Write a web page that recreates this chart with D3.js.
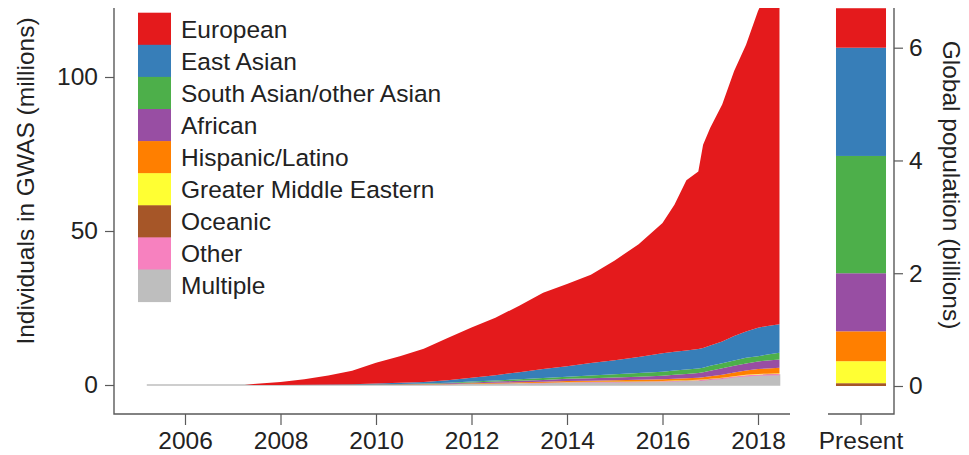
<!DOCTYPE html>
<html>
<head>
<meta charset="utf-8">
<script src="https://cdn.jsdelivr.net/npm/d3@7"></script>
<style>
  html, body { margin: 0; padding: 0; background: #fff; }
  svg { display: block; font-family: "Liberation Sans", Arial, Helvetica, sans-serif; }
  .tick text { fill: #222; }
</style>
</head>
<body>
<svg id="chart" width="969" height="455"></svg>
<script>
// Cumulative number of GWAS participants (millions) by ancestry, over time
const years = [2005.2, 2007.25, 2007.5, 2008.0, 2008.5, 2009.0, 2009.5, 2010.0, 2010.5, 2011.0,
  2011.5, 2012.0, 2012.5, 2013.0, 2013.5, 2014.0, 2014.5, 2015.0, 2015.5, 2016.0,
  2016.25, 2016.5, 2016.75, 2016.85, 2017.0, 2017.25, 2017.5, 2017.75, 2018.0, 2018.2, 2018.45];

const european = [0, 0, 0.4, 0.97, 1.82, 2.93, 4.32, 6.7, 8.6, 10.8,
  13.7, 16.3, 18.6, 21.6, 24.8, 26.7, 28.7, 32.4, 36.6, 42.3,
  47.7, 55.3, 57.6, 66.0, 70.7, 76.9, 86.1, 93.1, 102.9, 108.8, 115.3];
const eastAsian = [0, 0, 0, 0.02, 0.05, 0.1, 0.15, 0.25, 0.35, 0.5,
  0.8, 1.2, 1.7, 2.3, 2.9, 3.4, 4.0, 4.6, 5.2, 6.0,
  6.1, 6.2, 6.3, 6.4, 6.6, 7.1, 7.9, 8.6, 9.2, 9.3, 9.2];
const southAsian = [0, 0, 0, 0, 0.01, 0.02, 0.05, 0.08, 0.1, 0.15,
  0.2, 0.3, 0.4, 0.5, 0.6, 0.7, 0.9, 1.0, 1.2, 1.3,
  1.4, 1.4, 1.5, 1.5, 1.6, 1.6, 1.7, 1.8, 1.7, 1.9, 2.2];
const african = [0, 0, 0, 0.01, 0.02, 0.05, 0.08, 0.1, 0.12, 0.15,
  0.22, 0.3, 0.4, 0.5, 0.6, 0.7, 0.8, 0.9, 1.0, 1.1,
  1.3, 1.4, 1.5, 1.6, 1.8, 2.1, 2.2, 2.3, 2.5, 2.6, 2.7];
const hispanic = [0, 0, 0, 0, 0, 0, 0, 0.02, 0.05, 0.08,
  0.1, 0.15, 0.2, 0.25, 0.3, 0.35, 0.4, 0.45, 0.5, 0.55,
  0.6, 0.65, 0.7, 0.75, 0.8, 1.0, 1.2, 1.4, 1.6, 1.7, 1.8];
const middleEastern = [0, 0, 0, 0, 0, 0, 0, 0, 0, 0.01,
  0.01, 0.02, 0.02, 0.03, 0.04, 0.05, 0.06, 0.07, 0.08, 0.1,
  0.1, 0.1, 0.1, 0.1, 0.1, 0.1, 0.11, 0.12, 0.13, 0.14, 0.15];
const oceanic = [0, 0, 0, 0, 0, 0, 0, 0, 0, 0,
  0, 0.01, 0.01, 0.01, 0.02, 0.02, 0.02, 0.03, 0.03, 0.03,
  0.03, 0.03, 0.04, 0.04, 0.04, 0.04, 0.04, 0.04, 0.05, 0.05, 0.05];
const other = [0, 0, 0, 0, 0, 0, 0, 0, 0, 0.02,
  0.03, 0.05, 0.07, 0.08, 0.1, 0.12, 0.14, 0.15, 0.18, 0.2,
  0.2, 0.22, 0.24, 0.25, 0.27, 0.3, 0.32, 0.35, 0.38, 0.4, 0.4];
const multiple = [0, 0, 0, 0, 0, 0, 0, 0.05, 0.08, 0.1,
  0.2, 0.3, 0.4, 0.5, 0.6, 0.75, 0.8, 0.85, 0.9, 1.0,
  1.1, 1.2, 1.3, 1.4, 1.6, 1.9, 2.4, 2.8, 3.0, 3.1, 3.2];

// Present-day global population (billions) by ancestry
const populationBillions = [0.7, 1.92, 2.08, 1.03, 0.53, 0.39, 0.05, 0, 0];

// Legend / stacking order (top of stack first)
const groups = ["European", "East Asian", "South Asian/other Asian", "African",
  "Hispanic/Latino", "Greater Middle Eastern", "Oceanic", "Other", "Multiple"];
const colors = ["#E41A1C", "#377EB8", "#4DAF4A", "#984EA3",
  "#FF7F00", "#FFFF33", "#A65628", "#F781BF", "#BEBEBE"];

const yearTicks = [2006, 2008, 2010, 2012, 2014, 2016, 2018];
const countTicks = [0, 50, 100];
const popTicks = [0, 2, 4, 6];
const presentLabel = ["Present"];

// ---------- layout ----------
const svg = d3.select("#chart");
const plot = { left: 114, right: 790, top: 8, bottom: 414 };
const side = { left: 828, right: 894 };
const axisColor = "#5a5a5a";
const fontSize = 24.5;

const seriesValues = [european, eastAsian, southAsian, african, hispanic,
  middleEastern, oceanic, other, multiple];

const x = d3.scaleLinear().domain([2006, 2018]).range([185, 758]);
const y = d3.scaleLinear().domain([0, 100]).range([385, 77]);
const yPop = d3.scaleLinear().domain([0, 6]).range([386, 47.7]);

// ---------- stacked areas ----------
const rows = years.map((yr, i) => {
  const r = { year: yr };
  groups.forEach((g, k) => { r[g] = seriesValues[k][i]; });
  return r;
});
const stackKeys = groups.slice().reverse(); // bottom layer first
const stacked = d3.stack().keys(stackKeys)(rows);
const colorOf = d3.scaleOrdinal().domain(groups).range(colors);

svg.append("defs").append("clipPath").attr("id", "plot-clip")
  .append("rect")
  .attr("x", plot.left).attr("y", plot.top)
  .attr("width", plot.right - plot.left).attr("height", plot.bottom - plot.top);

const area = d3.area()
  .x(d => x(d.data.year))
  .y0(d => y(d[0]))
  .y1(d => y(d[1]))
  .curve(d3.curveLinear);

const areas = svg.append("g").attr("clip-path", "url(#plot-clip)");
areas.selectAll("path")
  .data(stacked)
  .join("path")
  .attr("d", area)
  .attr("fill", d => colorOf(d.key))
  .attr("stroke", d => d.key === "Multiple" ? colorOf(d.key) : "none")
  .attr("stroke-width", d => d.key === "Multiple" ? 1.6 : 0);

// ---------- present-day population bar ----------
const band = d3.scaleBand().domain(presentLabel).range([side.left, side.right]).padding(0.1378);
const popRow = { label: presentLabel[0] };
groups.forEach((g, k) => { popRow[g] = populationBillions[k]; });
const popStack = d3.stack().keys(stackKeys)([popRow]);

svg.append("defs").append("clipPath").attr("id", "side-clip")
  .append("rect")
  .attr("x", side.left).attr("y", plot.top)
  .attr("width", side.right - side.left).attr("height", plot.bottom - plot.top);

svg.append("g").attr("clip-path", "url(#side-clip)")
  .selectAll("rect")
  .data(popStack)
  .join("rect")
  .attr("x", band(presentLabel[0]))
  .attr("width", band.bandwidth())
  .attr("y", d => yPop(d[0][1]))
  .attr("height", d => yPop(d[0][0]) - yPop(d[0][1]))
  .attr("fill", d => colorOf(d.key));

// ---------- axes ----------
function styleAxis(g) {
  g.select(".domain").remove();
  g.selectAll(".tick line").attr("stroke", axisColor).attr("stroke-width", 1.2);
  g.selectAll(".tick text").attr("font-size", fontSize).attr("fill", "#222");
}

// main panel axis lines (L-shaped frame)
svg.append("path")
  .attr("d", `M${plot.left},${plot.top}V${plot.bottom}H${plot.right}`)
  .attr("fill", "none").attr("stroke", axisColor).attr("stroke-width", 1.4);

svg.append("g")
  .attr("transform", `translate(${plot.left},0)`)
  .call(d3.axisLeft(y).tickValues(countTicks).tickSize(9).tickPadding(7))
  .call(styleAxis);

svg.append("g")
  .attr("transform", `translate(0,${plot.bottom})`)
  .call(d3.axisBottom(x).tickValues(yearTicks).tickFormat(d3.format("d")).tickSize(11).tickPadding(7))
  .call(styleAxis);

// side panel axis lines
svg.append("path")
  .attr("d", `M${side.left},${plot.bottom}H${side.right}V${plot.top}`)
  .attr("fill", "none").attr("stroke", axisColor).attr("stroke-width", 1.4);

svg.append("g")
  .attr("transform", `translate(${side.right},0)`)
  .call(d3.axisRight(yPop).tickValues(popTicks).tickFormat(d3.format("d")).tickSize(9).tickPadding(6))
  .call(styleAxis);

svg.append("g")
  .attr("transform", `translate(0,${plot.bottom})`)
  .call(d3.axisBottom(band).tickSize(11).tickPadding(7))
  .call(styleAxis);

// axis titles
svg.append("text")
  .attr("transform", "translate(34,181) rotate(-90)")
  .attr("text-anchor", "middle")
  .attr("font-size", fontSize).attr("fill", "#222")
  .text("Individuals in GWAS (millions)");

svg.append("text")
  .attr("transform", "translate(943,185) rotate(90)")
  .attr("text-anchor", "middle")
  .attr("font-size", fontSize).attr("fill", "#222")
  .text("Global population (billions)");

// ---------- legend ----------
const legend = svg.append("g").attr("transform", "translate(138,12.7)");
const rowH = 32.1;
const item = legend.selectAll("g")
  .data(groups)
  .join("g")
  .attr("transform", (d, i) => `translate(0,${i * rowH})`);
item.append("rect")
  .attr("width", 33).attr("height", rowH + 0.5)
  .attr("fill", d => colorOf(d));
item.append("text")
  .attr("x", 43).attr("y", rowH / 2)
  .attr("dy", "0.36em")
  .attr("font-size", fontSize).attr("fill", "#222")
  .text(d => d);
</script>
</body>
</html>
